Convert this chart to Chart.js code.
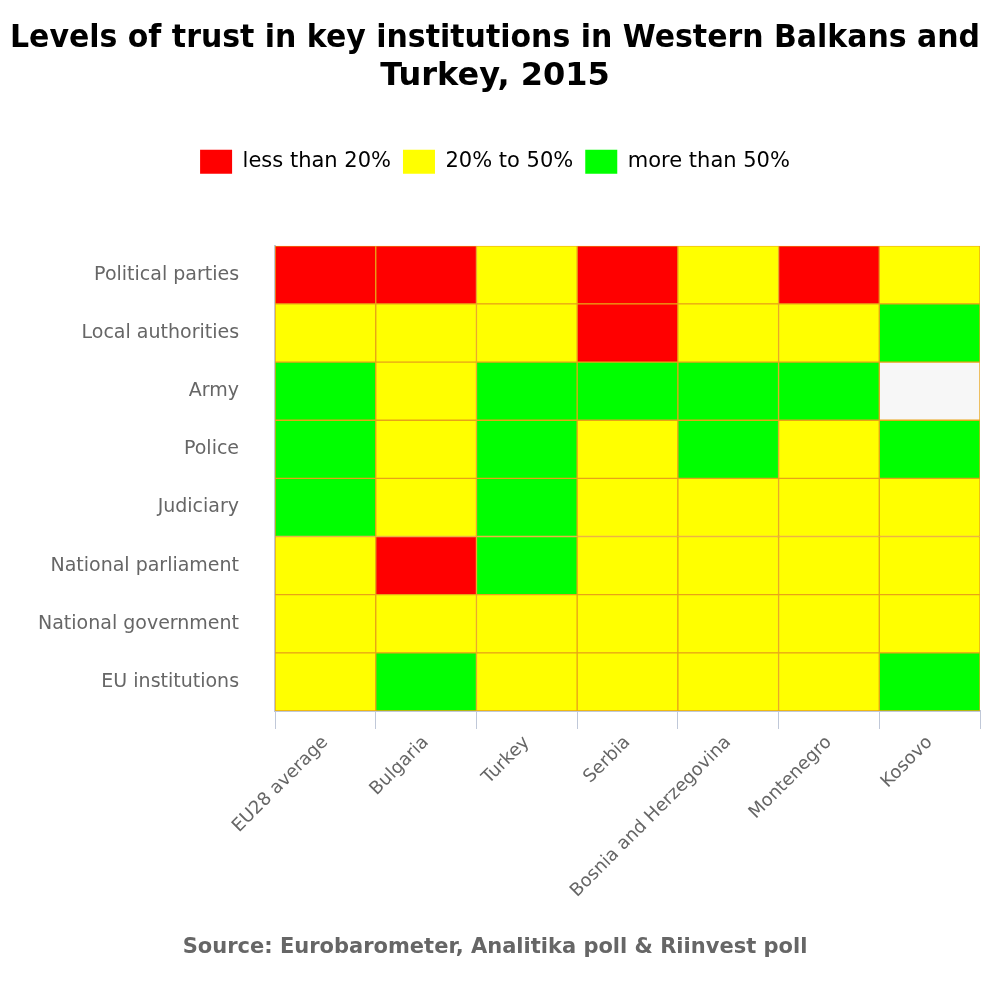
<!DOCTYPE html>
<html>
<head>
<meta charset="utf-8">
<script src="https://cdn.jsdelivr.net/npm/chart.js@4"></script>
<style>
  body { margin: 0; background: #fff; }
  #wrap { width: 1000px; height: 1000px; }
</style>
</head>
<body>
<div id="wrap"><canvas id="chart"></canvas></div>
<script>
const countries = ['EU28 average', 'Bulgaria', 'Turkey', 'Serbia', 'Bosnia and Herzegovina', 'Montenegro', 'Kosovo'];
// rows listed bottom to top
const institutions = ['EU institutions', 'National government', 'National parliament', 'Judiciary', 'Police', 'Army', 'Local authorities', 'Political parties'];
// 0 = less than 20%, 1 = 20% to 50%, 2 = more than 50%, null = no data
const levels = [
  [1, 2, 1, 1, 1, 1, 2],
  [1, 1, 1, 1, 1, 1, 1],
  [1, 0, 2, 1, 1, 1, 1],
  [2, 1, 2, 1, 1, 1, 1],
  [2, 1, 2, 1, 2, 1, 2],
  [2, 1, 2, 2, 2, 2, null],
  [1, 1, 1, 0, 1, 1, 2],
  [0, 0, 1, 0, 1, 0, 1]
];
const levelNames = ['less than 20%', '20% to 50%', 'more than 50%'];
const levelColors = ['#ff0000', '#ffff00', '#00ff00'];
const noDataColor = '#f7f7f7';

const datasets = institutions.map((name, i) => ({
  label: name,
  data: countries.map(() => 1),
  backgroundColor: levels[i].map(l => l === null ? noDataColor : levelColors[l]),
  borderColor: '#e8a317',
  borderWidth: 1,
  borderSkipped: false,
  barPercentage: 1,
  categoryPercentage: 1
}));

// extra space under the legend
const legendGap = {
  id: 'legendGap',
  beforeInit(chart) {
    const fit = chart.legend.fit;
    chart.legend.fit = function () {
      fit.bind(chart.legend)();
      this.height += 62;
    };
  }
};

new Chart(document.getElementById('chart'), {
  type: 'bar',
  data: { labels: countries, datasets },
  plugins: [legendGap],
  options: {
    responsive: true,
    maintainAspectRatio: false,
    animation: false,
    layout: { padding: { left: 10, right: 20, top: 14, bottom: 40 } },
    plugins: {
      tooltip: { enabled: false },
      title: {
        display: true,
        text: ['Levels of trust in key institutions in Western Balkans and', 'Turkey, 2015'],
        color: '#000',
        font: { family: 'DejaVu Sans', size: 32, weight: 'bold' },
        padding: { top: 5, bottom: 42 }
      },
      legend: {
        onClick: null,
        labels: {
          boxWidth: 32,
          boxHeight: 24,
          padding: 12,
          color: '#000',
          font: { family: 'DejaVu Sans', size: 21 },
          generateLabels: () => levelNames.map((n, i) => ({
            text: n, fillStyle: levelColors[i], strokeStyle: levelColors[i], lineWidth: 0
          }))
        }
      },
      subtitle: {
        display: true,
        position: 'bottom',
        text: 'Source: Eurobarometer, Analitika poll & Riinvest poll',
        color: '#666',
        font: { family: 'DejaVu Sans', size: 21, weight: 'bold' },
        padding: { top: 30 }
      }
    },
    scales: {
      x: {
        stacked: true,
        offset: true,
        grid: { offset: true, drawOnChartArea: false, tickLength: 18, color: '#c0c8d8' },
        border: { color: '#c0c8d8', width: 2 },
        ticks: {
          color: '#666',
          maxRotation: 45,
          minRotation: 45,
          font: { family: 'DejaVu Sans', size: 18 }
        }
      },
      y: {
        stacked: true,
        min: 0,
        max: institutions.length,
        afterBuildTicks: axis => {
          axis.ticks = institutions.map((_, i) => ({ value: i + 0.5 }));
        },
        grid: { display: false },
        border: { color: '#c0c8d8', width: 2 },
        ticks: {
          color: '#666',
          padding: 28,
          font: { family: 'DejaVu Sans', size: 19 },
          callback: v => institutions[Math.floor(v)]
        }
      }
    }
  }
});
</script>
</body>
</html>
